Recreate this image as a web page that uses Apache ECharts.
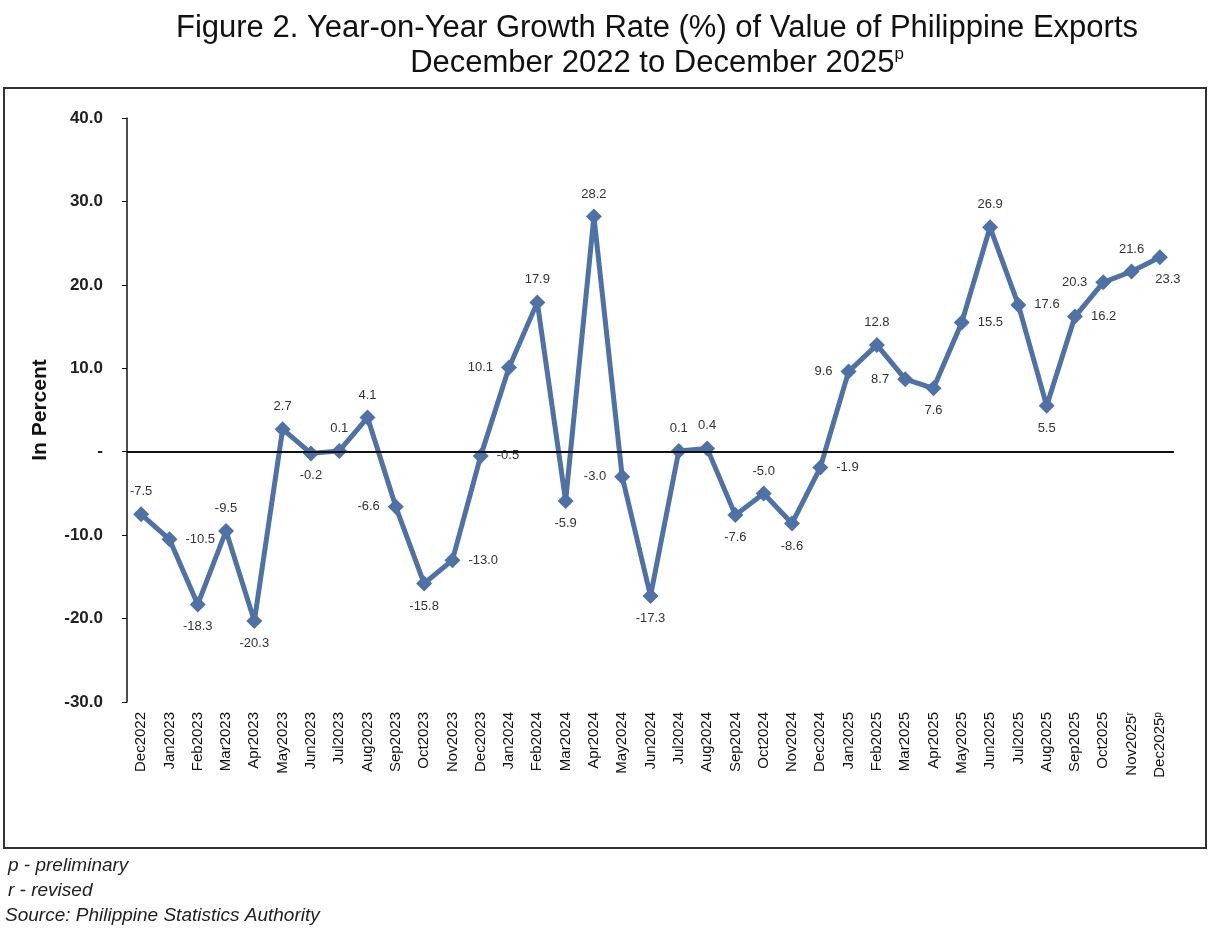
<!DOCTYPE html>
<html><head><meta charset="utf-8">
<script src="https://cdn.jsdelivr.net/npm/echarts@6/dist/echarts.min.js"></script>
<style>html,body{margin:0;padding:0;background:#fff}#c{width:1216px;height:950px}</style>
</head><body><div id="c"></div>
<script>
const categories = ['Dec2022','Jan2023','Feb2023','Mar2023','Apr2023','May2023','Jun2023','Jul2023','Aug2023','Sep2023','Oct2023','Nov2023','Dec2023','Jan2024','Feb2024','Mar2024','Apr2024','May2024','Jun2024','Jul2024','Aug2024','Sep2024','Oct2024','Nov2024','Dec2024','Jan2025','Feb2025','Mar2025','Apr2025','May2025','Jun2025','Jul2025','Aug2025','Sep2025','Oct2025','Nov2025ʳ','Dec2025ᵖ'];
const growth = [-7.5,-10.5,-18.3,-9.5,-20.3,2.7,-0.2,0.1,4.1,-6.6,-15.8,-13.0,-0.5,10.1,17.9,-5.9,28.2,-3.0,-17.3,0.1,0.4,-7.6,-5.0,-8.6,-1.9,9.6,12.8,8.7,7.6,15.5,26.9,17.6,5.5,16.2,20.3,21.6,23.3];
const yTicks = {min:-30, max:40, step:10};

// label placement (style only)
const labelPositions = ['top','right','bottom','top','bottom','top','bottom','top','top','left','bottom','right','right','left','top','bottom','top','left','bottom','top','top','bottom','top','bottom','right','left','top','left','bottom','right','top','right','bottom','right','left','top','bottom'];

const chart = echarts.init(document.getElementById('c'), null, {renderer:'canvas'});
const lineColor = '#4e71a6';
const seriesData = growth.map((v,i)=>{
  const p = labelPositions[i];
  const o = {value:v, label:{position:p}};
  if (i === growth.length-1) o.label.offset = [8,0];
  return o;
});
chart.setOption({
  backgroundColor:'#fff',
  animation:false,
  title:[{
    text:'Figure 2. Year-on-Year Growth Rate (%) of Value of Philippine Exports\nDecember 2022 to December 2025{sup|p}',
    left:652, top:6, textAlign:'center',
    textStyle:{fontFamily:'Liberation Sans Narrow, Liberation Sans, Arial', fontSize:31, fontWeight:'normal', color:'#111', lineHeight:35,
      rich:{sup:{fontSize:17, verticalAlign:'top', padding:[0,0,12,0], fontFamily:'Liberation Sans', color:'#111'}}}
  }],
  graphic:[
    {type:'rect', shape:{x:4,y:88,width:1202,height:760}, style:{fill:'none', stroke:'#333', lineWidth:2}, z:0},
    {type:'text', left:8, top:856, style:{text:'p - preliminary', font:'italic 19px "Liberation Sans", Arial', fill:'#222'}},
    {type:'text', left:8, top:881, style:{text:'r - revised', font:'italic 19px "Liberation Sans", Arial', fill:'#222'}},
    {type:'text', left:5, top:906, style:{text:'Source: Philippine Statistics Authority', font:'italic 19px "Liberation Sans", Arial', fill:'#222'}}
  ],
  grid:{left:127, right:42, top:118, bottom:248, containLabel:false},
  xAxis:{
    type:'category', data:categories, boundaryGap:true,
    axisLine:{show:false, onZero:false}, axisTick:{show:false},
    axisLabel:{rotate:90, interval:0, fontSize:15, color:'#111', fontFamily:'Liberation Sans, Arial', margin:10}
  },
  yAxis:{
    type:'value', min:yTicks.min, max:yTicks.max, interval:yTicks.step,
    name:'In Percent', nameLocation:'middle', nameGap:76,
    nameTextStyle:{fontSize:21, fontWeight:'bold', color:'#111', fontFamily:'Liberation Sans, Arial'},
    axisLine:{show:true, lineStyle:{color:'#111', width:1.5}},
    axisTick:{show:true, length:5, inside:false, lineStyle:{color:'#111'}},
    splitLine:{show:false},
    axisLabel:{fontSize:17, fontWeight:'bold', color:'#222', margin:24, fontFamily:'Liberation Sans, Arial',
      formatter:v=> v===0 ? '-' : v.toFixed(1)}
  },
  series:[
    {type:'line', data:[], z:1, silent:true,
      markLine:{silent:true, symbol:'none', label:{show:false}, lineStyle:{color:'#111', width:1.8, type:'solid'}, data:[{yAxis:0}]}},
    {type:'line', data:seriesData, z:3,
      symbol:'diamond', symbolSize:16,
      lineStyle:{color:lineColor, width:5},
      itemStyle:{color:lineColor},
      label:{show:true, fontSize:13, color:'#333', distance:8, fontFamily:'Liberation Sans, Arial',
        formatter:p=>p.value.toFixed(1)}
    }
  ]
});
</script></body></html>
